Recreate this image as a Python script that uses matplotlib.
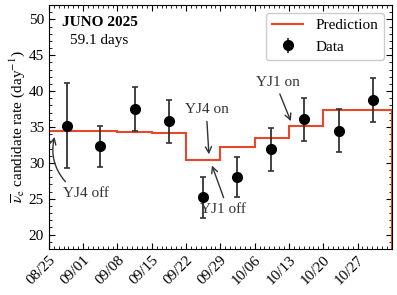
import datetime as dt
import matplotlib
matplotlib.use("Agg")
import matplotlib.pyplot as plt
import matplotlib.dates as mdates
from matplotlib.lines import Line2D

plt.rcParams['font.family'] = ['Liberation Serif', 'DejaVu Serif']
plt.rcParams['mathtext.fontset'] = 'stix'

# weekly bins (Monday starts) and predicted rate per bin
bin_edges = ['2025-08-25', '2025-09-01', '2025-09-08', '2025-09-15', '2025-09-22',
             '2025-09-29', '2025-10-06', '2025-10-13', '2025-10-20', '2025-10-27',
             '2025-11-03']
prediction = [34.4, 34.4, 34.3, 34.2, 30.4, 32.2, 33.5, 35.1, 37.3, 37.4]

# measured weekly rates
data_dates = ['2025-08-28 16:00', '2025-09-04 10:00', '2025-09-11 16:00', '2025-09-18 12:00',
              '2025-09-25 10:00', '2025-10-02 10:00', '2025-10-09 10:00', '2025-10-16 02:00',
              '2025-10-23 05:00', '2025-10-30 05:00']
data_rate = [35.2, 32.3, 37.5, 35.8, 25.2, 28.0, 31.9, 36.1, 34.5, 38.8]
data_err = [5.9, 2.9, 3.1, 3.0, 2.9, 2.8, 3.0, 3.0, 3.05, 3.05]

edges = mdates.date2num([dt.datetime.fromisoformat(d) for d in bin_edges])
xd = mdates.date2num([dt.datetime.fromisoformat(d) for d in data_dates])

red = '#e8472a'
grey = '#333333'
fs = 11

fig = plt.figure(figsize=(3.97, 2.95), dpi=100)
ax = fig.add_axes([0.123, 0.156, 0.864, 0.827])

ax.stairs(prediction, edges, baseline=0, fill=False, color=red, lw=1.5, zorder=2)
ax.errorbar(xd, data_rate, yerr=data_err, fmt='o', color='black', ecolor=grey,
            ms=7, elinewidth=1.3, capsize=2, capthick=1.2, zorder=3)

ax.set_xlim(edges[0], edges[-1])
ax.set_ylim(18, 52)

ax.set_xticks(edges[:-1])
ax.xaxis.set_minor_locator(mdates.DayLocator())
ax.xaxis.set_major_formatter(mdates.DateFormatter('%m/%d'))
ax.yaxis.set_major_locator(plt.MultipleLocator(5))
ax.yaxis.set_minor_locator(plt.MultipleLocator(1))
ax.tick_params(which='both', direction='in', top=True, right=True, labelsize=fs)
ax.tick_params(which='major', length=4)
ax.tick_params(which='minor', length=2)
for lab in ax.get_xticklabels():
    lab.set_rotation(45)
    lab.set_ha('right')
    lab.set_rotation_mode('anchor')

ax.set_ylabel(r'$\overline{\nu}_{\rm e}$ candidate rate (day$^{-1}$)', fontsize=fs, labelpad=1)

ax.text(0.148, 0.93, 'JUNO 2025', transform=ax.transAxes, fontsize=fs,
        fontweight='bold', ha='center', va='center')
ax.text(0.148, 0.855, '59.1 days', transform=ax.transAxes, fontsize=fs,
        ha='center', va='center')

d0 = edges[0]
arrow = dict(arrowstyle='->', color=grey, lw=1)
ax.annotate('YJ4 off', xy=(d0 + 1.3, 34.0), xytext=(d0 + 7.6, 25.8),
            fontsize=fs, color=grey, ha='center', va='center',
            arrowprops=dict(arrow, connectionstyle='arc3,rad=-0.3', relpos=(0.15, 1.0)))
ax.annotate('YJ4 on', xy=(d0 + 32.7, 30.8), xytext=(d0 + 32.2, 37.45),
            fontsize=fs, color=grey, ha='center', va='center',
            arrowprops=dict(arrow, relpos=(0.5, 0.0)))
ax.annotate('YJ1 off', xy=(d0 + 33.1, 30.0), xytext=(d0 + 35.6, 23.5),
            fontsize=fs, color=grey, ha='center', va='center',
            arrowprops=dict(arrow, relpos=(0.55, 1.0)))
ax.annotate('YJ1 on', xy=(d0 + 49.6, 35.45), xytext=(d0 + 46.7, 41.25),
            fontsize=fs, color=grey, ha='center', va='center',
            arrowprops=dict(arrow, relpos=(0.5, 0.0)))

handles = [Line2D([], [], color=red, lw=1.5),
           ax.errorbar([], [], yerr=[], fmt='o', color='black', ecolor=grey,
                       ms=7, elinewidth=1.3, capsize=2)]
ax.legend(handles, ['Prediction', 'Data'], loc='upper right', fontsize=fs,
          framealpha=1, edgecolor='#cccccc')

fig.savefig('out.png', dpi=100)
